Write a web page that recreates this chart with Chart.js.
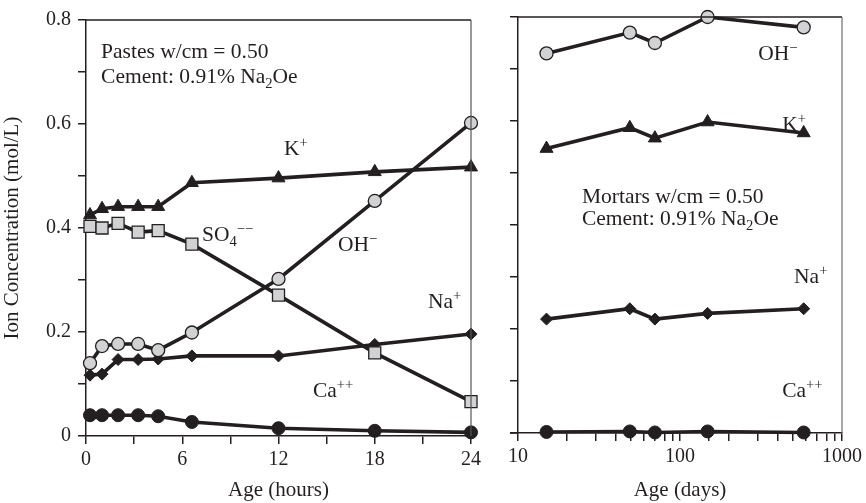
<!DOCTYPE html>
<html>
<head>
<meta charset="utf-8">
<script src="https://cdn.jsdelivr.net/npm/chart.js@4.4.1/dist/chart.umd.min.js"></script>
<style>
  html, body { margin: 0; padding: 0; background: #fff; }
  #wrap { position: relative; width: 866px; height: 503px; }
  #left { position: absolute; left: 0; top: 0; }
  #right { position: absolute; left: 490px; top: 0; }
</style>
</head>
<body>
<div id="wrap">
  <canvas id="left" width="490" height="503"></canvas>
  <canvas id="right" width="376" height="503"></canvas>
</div>
<script>
// pastes, early age (hours)
const hours = [0.25, 1, 2, 3.25, 4.5, 6.6, 12, 18, 24];
const pasteK = [0.425, 0.437, 0.441, 0.441, 0.441, 0.487, 0.496, 0.508, 0.517];
const pasteSO4 = [0.403, 0.400, 0.409, 0.392, 0.395, 0.369, 0.271, 0.160, 0.066];
const pasteOH = [0.140, 0.173, 0.177, 0.177, 0.165, 0.199, 0.302, 0.452, 0.602];
const pasteNa = [0.117, 0.119, 0.147, 0.147, 0.148, 0.154, 0.154, 0.176, 0.196];
const pasteCa = [0.040, 0.040, 0.040, 0.040, 0.038, 0.027, 0.015, 0.010, 0.007];

// mortars, later age (days)
const days = [15, 49, 70, 148, 580];
const mortarOH = [0.730, 0.770, 0.750, 0.800, 0.780];
const mortarK = [0.547, 0.587, 0.567, 0.598, 0.577];
const mortarNa = [0.219, 0.239, 0.219, 0.230, 0.239];
const mortarCa = [0.002, 0.003, 0.001, 0.003, 0.001];

const hourTicks = [0, 6, 12, 18, 24];
const dayTicks = [10, 100, 1000];
const concTicks = [0, 0.2, 0.4, 0.6, 0.8];

const INK = '#231f20';
const GREY = '#d1d2d4';
const FONT = '"Liberation Serif", "Times New Roman", serif';

function pts(xs, ys) {
  return xs.map((x, i) => ({ x: x, y: ys[i] }));
}

function series(label, xs, ys, style, fill, radius) {
  return {
    label: label,
    data: pts(xs, ys),
    borderColor: INK,
    borderWidth: 3.6,
    pointStyle: style,
    pointRadius: radius,
    pointBackgroundColor: fill,
    pointBorderColor: INK,
    pointBorderWidth: fill === INK ? 1 : 1.3,
    clip: false,
    tension: 0
  };
}

// text like "Na_{2}Oe" or "SO_{4}^{−−}"
function parseRich(str) {
  const parts = [];
  const re = /([_^])\{([^}]*)\}|([^_^]+)/g;
  let m;
  while ((m = re.exec(str)) !== null) {
    if (m[3]) parts.push({ t: m[3] });
    else parts.push({ t: m[2], sup: m[1] === '^', sub: m[1] === '_' });
  }
  return parts;
}

const notesPlugin = {
  id: 'notes',
  afterDatasetsDraw(chart, args, opts) {
    const { ctx } = chart;
    const xs = chart.scales.x, ys = chart.scales.y;
    ctx.save();
    ctx.fillStyle = INK;
    ctx.textAlign = 'left';
    ctx.textBaseline = 'alphabetic';
    opts.items.forEach(item => {
      let cx = xs.getPixelForValue(item.x);
      const cy = ys.getPixelForValue(item.y);
      parseRich(item.text).forEach(p => {
        const size = (p.sup || p.sub) ? opts.size * 0.68 : opts.size;
        ctx.font = size + 'px ' + FONT;
        const dy = p.sup ? -opts.size * 0.38 : p.sub ? opts.size * 0.22 : 0;
        ctx.fillText(p.t, cx, cy + dy);
        cx += ctx.measureText(p.t).width;
      });
    });
    ctx.restore();
  }
};

const framePlugin = {
  id: 'frame',
  afterDraw(chart, args, opts) {
    const { ctx, chartArea: a } = chart;
    ctx.save();
    ctx.lineWidth = 1.5;
    ctx.strokeStyle = INK;
    ctx.beginPath();
    ctx.moveTo(a.left, a.top);
    ctx.lineTo(a.right, a.top);
    ctx.stroke();
    ctx.lineWidth = 1.2;
    ctx.strokeStyle = opts.side;
    ctx.beginPath();
    ctx.moveTo(a.right, a.top);
    ctx.lineTo(a.right, a.bottom);
    ctx.stroke();
    if (opts.extend) {
      ctx.lineWidth = 1.5;
      ctx.strokeStyle = INK;
      ctx.beginPath();
      ctx.moveTo(a.left - opts.extend, a.bottom);
      ctx.lineTo(a.left, a.bottom);
      ctx.stroke();
    }
    ctx.restore();
  }
};

function axisGrid() {
  return {
    drawOnChartArea: false,
    drawTicks: true,
    tickLength: 8,
    tickColor: INK,
    tickWidth: 1.5,
    lineWidth: 1.5
  };
}

const tickFont = { family: FONT, size: 20 };
const titleFont = { family: FONT, size: 21 };
const noteSize = 21.5;

new Chart(document.getElementById('left'), {
  type: 'line',
  data: {
    datasets: [
      series('K+', hours, pasteK, 'triangle', INK, 7.5),
      series('SO4--', hours, pasteSO4, 'rect', GREY, 8.5),
      series('OH-', hours, pasteOH, 'circle', GREY, 6.5),
      series('Na+', hours, pasteNa, 'rectRot', INK, 6),
      series('Ca++', hours, pasteCa, 'circle', INK, 6.5)
    ]
  },
  options: {
    responsive: false,
    animation: false,
    layout: { padding: { top: 20, right: 19, left: 0, bottom: 0 } },
    plugins: {
      legend: { display: false },
      tooltip: { enabled: false },
      frame: { side: '#555555' },
      notes: {
        size: noteSize,
        items: [
          { x: 0.94, y: 0.727, text: 'Pastes w/cm = 0.50' },
          { x: 0.94, y: 0.679, text: 'Cement: 0.91% Na_{2}Oe' },
          { x: 12.34, y: 0.540, text: 'K^{+}' },
          { x: 7.23, y: 0.375, text: 'SO_{4}^{−−}' },
          { x: 15.71, y: 0.356, text: 'OH^{−}' },
          { x: 21.32, y: 0.246, text: 'Na^{+}' },
          { x: 14.15, y: 0.075, text: 'Ca^{++}' }
        ]
      }
    },
    scales: {
      x: {
        type: 'linear',
        min: 0,
        max: 24,
        afterFit: s => { s.height = 67; },
        border: { color: INK, width: 1.5 },
        grid: axisGrid(),
        ticks: {
          stepSize: 3,
          autoSkip: false,
          maxRotation: 0,
          padding: 4,
          color: INK,
          font: tickFont,
          callback: v => hourTicks.includes(v) ? String(v) : ''
        },
        title: { display: true, text: 'Age (hours)', color: INK, font: titleFont, padding: 0 }
      },
      y: {
        min: 0,
        max: 0.8,
        afterFit: s => { s.width = 86; },
        border: { color: INK, width: 1.5 },
        grid: axisGrid(),
        ticks: {
          stepSize: 0.1,
          autoSkip: false,
          padding: 7,
          color: INK,
          font: tickFont,
          callback: v => {
            const r = Math.round(v * 10) / 10;
            if (!concTicks.some(t => Math.abs(t - r) < 1e-6)) return '';
            return r === 0 ? '0' : r.toFixed(1);
          }
        },
        title: { display: true, text: 'Ion Concentration (mol/L)', color: INK, font: titleFont, padding: 0 }
      }
    }
  },
  plugins: [framePlugin, notesPlugin]
});

new Chart(document.getElementById('right'), {
  type: 'line',
  data: {
    datasets: [
      series('OH-', days, mortarOH, 'circle', GREY, 6.5),
      series('K+', days, mortarK, 'triangle', INK, 7.5),
      series('Na+', days, mortarNa, 'rectRot', INK, 6),
      series('Ca++', days, mortarCa, 'circle', INK, 6.5)
    ]
  },
  options: {
    responsive: false,
    animation: false,
    layout: { padding: { top: 17, right: 23, left: 0, bottom: 0 } },
    plugins: {
      legend: { display: false },
      tooltip: { enabled: false },
      frame: { side: '#6d6e70', extend: 8 },
      notes: {
        size: noteSize,
        items: [
          { x: 304, y: 0.717, text: 'OH^{−}' },
          { x: 427, y: 0.580, text: 'K^{+}' },
          { x: 24.8, y: 0.4417, text: 'Mortars w/cm = 0.50' },
          { x: 24.8, y: 0.3994, text: 'Cement: 0.91% Na_{2}Oe' },
          { x: 506, y: 0.288, text: 'Na^{+}' },
          { x: 427, y: 0.0687, text: 'Ca^{++}' }
        ]
      }
    },
    scales: {
      x: {
        type: 'logarithmic',
        min: 10,
        max: 1000,
        afterFit: s => { s.height = 70; },
        border: { color: INK, width: 1.5 },
        grid: axisGrid(),
        ticks: {
          autoSkip: false,
          maxRotation: 0,
          padding: 4,
          color: INK,
          font: tickFont,
          callback: v => dayTicks.includes(v) ? String(v) : ''
        },
        title: { display: true, text: 'Age (days)', color: INK, font: titleFont, padding: 0 }
      },
      y: {
        min: 0,
        max: 0.8,
        afterFit: s => { s.width = 28; },
        border: { color: INK, width: 1.5 },
        grid: axisGrid(),
        ticks: {
          stepSize: 0.1,
          autoSkip: false,
          padding: 0,
          color: INK,
          font: tickFont,
          callback: () => ''
        }
      }
    }
  },
  plugins: [framePlugin, notesPlugin]
});
</script>
</body>
</html>
